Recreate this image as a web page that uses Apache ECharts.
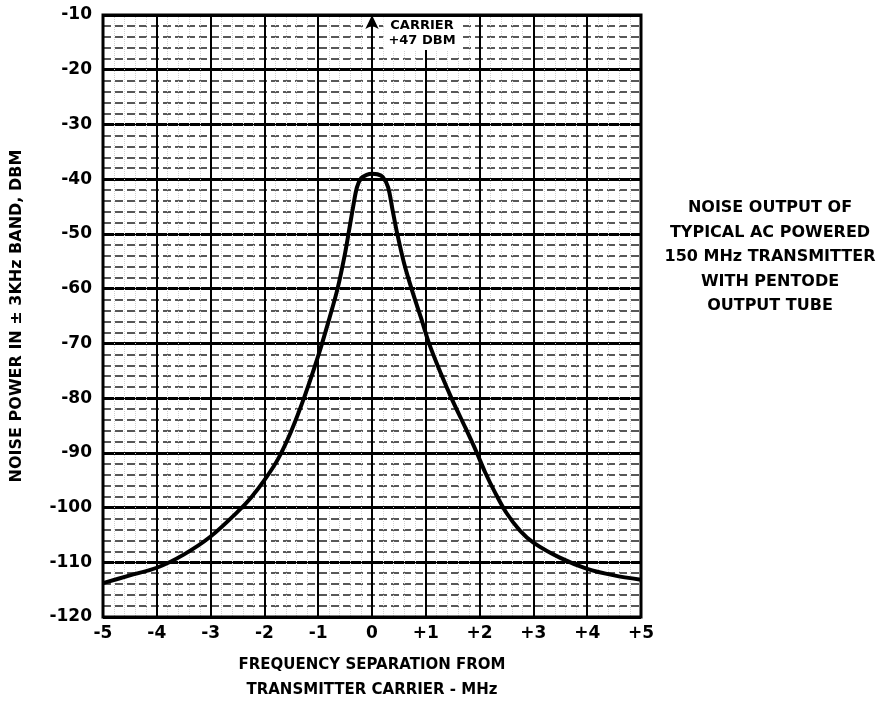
<!DOCTYPE html>
<html>
<head>
<meta charset="utf-8">
<script src="https://cdn.jsdelivr.net/npm/echarts@6/dist/echarts.min.js"></script>
<style>
  html, body { margin: 0; padding: 0; background: #fff; }
  #chart { width: 876px; height: 702px; }
</style>
</head>
<body>
<div id="chart"></div>
<script>
// frequency separation from carrier (MHz)
const freqMHz = [-5, -4.5, -4, -3.5, -3, -2.5, -2.25, -2, -1.75, -1.5, -1.25, -1, -0.8, -0.64, -0.5, -0.42, -0.35, -0.28, -0.2, -0.1, 0,
                 0.1, 0.2, 0.3, 0.38, 0.47, 0.6, 0.75, 0.91, 1.06, 1.28, 1.5, 1.74, 1.94, 2.1, 2.3, 2.5, 2.75, 3, 3.5, 4, 4.5, 5];
// noise power (dBm)
const noiseDbm = [-113.8, -112.4, -111, -108.6, -105.3, -100.8, -98.2, -95, -91.2, -86, -79.6, -72.3, -65.7, -60, -53.5, -49, -45, -41.5, -39.8, -39.2, -39,
                  -39.1, -39.6, -41.5, -45.5, -50, -55.5, -60.5, -65.3, -70, -75.5, -80.5, -85.5, -89.8, -93.5, -97.5, -101, -104.2, -106.4, -109.2, -111.2, -112.4, -113.2];
const carrierX = 0;
const carrierFrom = -39;
const carrierTo = -10;

const titleLines = ['NOISE OUTPUT OF', 'TYPICAL AC POWERED', '150 MHz TRANSMITTER', 'WITH PENTODE', 'OUTPUT TUBE'];

let chart = echarts.init(document.getElementById('chart'));
const font = 'DejaVu Sans';

let option = {
  backgroundColor: '#fff',
  animation: false,
  grid: { left: 103, right: 235, top: 15, bottom: 85, outerBoundsMode: 'none', containLabel: false },
  xAxis: {
    type: 'value',
    min: -5, max: 5, interval: 1,
    name: 'FREQUENCY SEPARATION FROM\nTRANSMITTER CARRIER - MHz',
    nameLocation: 'middle',
    nameGap: 36,
    nameTextStyle: { color: '#000', fontFamily: font, fontWeight: 'bold', fontSize: 15, lineHeight: 25 },
    axisLine: { show: false },
    axisTick: { show: false },
    axisLabel: {
      color: '#000', fontFamily: font, fontWeight: 'bold', fontSize: 17, margin: 8,
      formatter: v => v > 0 ? '+' + v : String(v)
    },
    splitLine: { show: true, lineStyle: { color: '#000', width: 2 } },
    minorTick: { show: false, splitNumber: 5 },
    minorSplitLine: { show: true, lineStyle: { color: '#d0d0d0', width: 1, type: 'dotted' } }
  },
  yAxis: {
    type: 'value',
    min: -120, max: -10, interval: 10,
    name: 'NOISE POWER IN ± 3KHz BAND, DBM',
    nameLocation: 'middle',
    nameGap: 78,
    nameTextStyle: { color: '#000', fontFamily: font, fontWeight: 'bold', fontSize: 16 },
    axisLine: { show: false },
    axisTick: { show: false },
    axisLabel: { color: '#000', fontFamily: font, fontWeight: 'bold', fontSize: 17, margin: 11 },
    splitLine: { show: true, lineStyle: { color: '#000', width: 3 } },
    minorTick: { show: false, splitNumber: 5 },
    minorSplitLine: { show: true, lineStyle: { color: '#222', width: 1.5, type: [8, 4] } }
  },
  graphic: [
    {
      type: 'rect', z: 100,
      shape: { x: 103, y: 15, width: 538, height: 602 },
      style: { fill: 'none', stroke: '#000', lineWidth: 3 }
    },
    {
      type: 'text', z: 110, x: 422, y: 17,
      style: {
        text: 'CARRIER\n+47 DBM', fill: '#000', font: 'bold 13px ' + font,
        lineHeight: 15, align: 'center', verticalAlign: 'top',
        backgroundColor: '#fff', padding: [1, 5, 2, 5]
      }
    },
    {
      type: 'text', z: 110, x: 770, y: 196,
      style: {
        text: titleLines.join('\n'), fill: '#000', font: 'bold 16px ' + font,
        lineHeight: 24.5, align: 'center', verticalAlign: 'top'
      }
    }
  ],
  series: [
    {
      type: 'line',
      data: freqMHz.map((x, i) => [x, noiseDbm[i]]),
      smooth: 0.3,
      showSymbol: false,
      lineStyle: { color: '#000', width: 4 },
      z: 50,
      markLine: {
        silent: true,
        symbol: ['none', 'arrow'],
        symbolSize: [10, 14],
        label: { show: false },
        lineStyle: { color: '#000', width: 2, type: 'solid' },
        data: [[{ coord: [carrierX, carrierFrom] }, { coord: [carrierX, carrierTo] }]]
      }
    }
  ]
};

chart.setOption(option);
</script>
</body>
</html>
